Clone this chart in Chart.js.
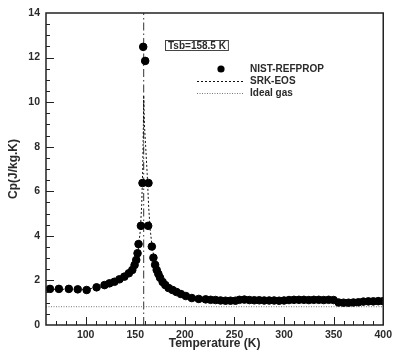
<!DOCTYPE html>
<html>
<head>
<meta charset="utf-8">
<script src="https://cdn.jsdelivr.net/npm/chart.js@4/dist/chart.umd.min.js"></script>
<style>
  html, body { margin: 0; padding: 0; background: #fff; }
  #wrap { width: 396px; height: 352px; }
</style>
</head>
<body>
<div id="wrap"><canvas id="cp" width="396" height="352"></canvas></div>
<script>
// NIST-REFPROP points (T in K, Cp in J/kg.K)
const nistT  = [64, 73, 83, 92, 101, 111, 119, 124, 129, 134, 139, 143.5, 147, 149.3, 151, 152.3, 153.3,
                155.7, 157.3, 158, 160, 163.3, 163, 166.7, 168.3, 170, 171.6, 173.3, 175, 177.6, 180.3,
                183.6, 187.6, 191.6, 196, 201, 207, 214, 221, 226, 231, 236, 241, 246, 251,
                255, 260, 265, 270, 275, 280, 285, 290, 295, 300, 305, 310, 315, 320, 325, 330, 335,
                340, 345, 350, 355, 360, 365, 370, 375, 380, 385, 390, 395, 400];
const nistCp = [1.62, 1.62, 1.62, 1.6, 1.57, 1.69, 1.79, 1.87, 1.94, 2.05, 2.17, 2.32, 2.47, 2.69, 2.92, 3.22, 3.63,
                4.45, 6.37, 12.48, 11.85, 6.37, 4.45, 3.52, 3.02, 2.7, 2.47, 2.29, 2.12, 1.93, 1.79,
                1.66, 1.57, 1.48, 1.39, 1.3, 1.21, 1.17, 1.15, 1.13, 1.12, 1.1, 1.09, 1.09, 1.09,
                1.13, 1.14, 1.12, 1.11, 1.11, 1.1, 1.1, 1.1, 1.09, 1.1, 1.12, 1.13, 1.13, 1.13, 1.12, 1.13, 1.13,
                1.12, 1.13, 1.12, 1.01, 1.0, 1.0, 1.01, 1.02, 1.05, 1.06, 1.06, 1.07, 1.07];

// SRK-EOS curve
const srkT  = [60, 100, 110, 120, 130, 140, 145, 150, 153, 155, 156.5, 157.5, 158.2, 158.5, 159.2, 160.5,
               162, 163.5, 165, 167, 170, 175, 180, 190, 200, 220, 250, 300, 350, 400];
const srkCp = [1.6, 1.6, 1.67, 1.78, 1.93, 2.18, 2.4, 2.85, 3.4, 4.2, 5.4, 7.0, 9.0, 10.3, 9.0, 8.0,
               6.8, 5.3, 4.3, 3.5, 2.8, 2.1, 1.8, 1.5, 1.3, 1.15, 1.1, 1.09, 1.08, 1.06];

// ideal gas Cp
const idealT  = [60, 400];
const idealCp = [0.82, 0.82];

// Tsb marker line
const tsb = 158.5;
const tsbCp = [0, 14];

const xTicks = [100, 150, 200, 250, 300, 350, 400];
const yTicks = [0, 2, 4, 6, 8, 10, 12, 14];

const FONT = "'Liberation Sans', Arial, Helvetica, sans-serif";
const TXT = '#2a2a2a';
const pts = (xs, ys) => xs.map((x, i) => ({ x, y: ys[i] }));

// cadre + ticks internos + legenda
const decor = {
  id: 'decor',
  afterDraw(chart) {
    const { ctx, chartArea: a, scales: { x, y } } = chart;
    ctx.save();
    ctx.strokeStyle = '#222';
    ctx.lineWidth = 1.5;
    ctx.strokeRect(a.left, a.top, a.right - a.left, a.bottom - a.top);

    ctx.lineWidth = 1;
    ctx.beginPath();
    for (let v = 70; v < 400; v += 10) {
      const px = Math.round(x.getPixelForValue(v)) + 0.5;
      const len = v % 50 === 0 ? 8 : 4;
      ctx.moveTo(px, a.bottom); ctx.lineTo(px, a.bottom - len);
    }
    for (let v = 0.5; v < 14; v += 0.5) {
      const py = Math.round(y.getPixelForValue(v)) + 0.5;
      const len = v % 2 === 0 ? 8 : 4;
      ctx.moveTo(a.left, py); ctx.lineTo(a.left + len, py);
    }
    ctx.stroke();

    // Tsb label
    ctx.font = `bold 10px ${FONT}`;
    ctx.fillStyle = TXT;
    ctx.textBaseline = 'middle';
    const txt = 'Tsb=158.5 K';
    const w = ctx.measureText(txt).width;
    ctx.strokeStyle = '#444';
    ctx.strokeRect(165.5, 40.5, w + 5, 10);
    ctx.fillText(txt, 168, 46);

    // legend
    const ds = chart.data.datasets;
    const rows = [69, 81, 93];
    ctx.beginPath();
    ctx.arc(221, rows[0], 3.6, 0, Math.PI * 2);
    ctx.fillStyle = '#000';
    ctx.fill();
    [1, 2].forEach((k, i) => {
      ctx.beginPath();
      ctx.setLineDash(ds[k].borderDash);
      ctx.strokeStyle = ds[k].borderColor;
      ctx.lineWidth = 1;
      ctx.moveTo(197, rows[i + 1] + 0.5); ctx.lineTo(243, rows[i + 1] + 0.5);
      ctx.stroke();
    });
    ctx.setLineDash([]);
    ctx.fillStyle = TXT;
    ds.slice(0, 3).forEach((d, i) => ctx.fillText(d.label, 250, rows[i]));
    ctx.restore();
  }
};

new Chart(document.getElementById('cp'), {
  type: 'scatter',
  data: {
    datasets: [
      { label: 'NIST-REFPROP', data: pts(nistT, nistCp), pointRadius: 3.8, pointBackgroundColor: '#000',
        pointBorderColor: '#000', showLine: false, order: 0 },
      { label: 'SRK-EOS', data: pts(srkT, srkCp), showLine: true, pointRadius: 0, borderColor: '#111',
        borderWidth: 1, borderDash: [2, 2], tension: 0, order: 1 },
      { label: 'Ideal gas', data: pts(idealT, idealCp), showLine: true, pointRadius: 0, borderColor: '#777',
        borderWidth: 1, borderDash: [1, 1.5], order: 2 },
      { label: 'Tsb', data: pts([tsb, tsb], tsbCp), showLine: true, pointRadius: 0, borderColor: '#333',
        borderWidth: 1, borderDash: [8, 3, 1.5, 3], order: 3 }
    ]
  },
  options: {
    responsive: false,
    animation: false,
    events: [],
    layout: { padding: { top: 13, right: 9, left: 0, bottom: 0 } },
    plugins: { legend: { display: false }, tooltip: { enabled: false } },
    scales: {
      x: {
        type: 'linear', min: 60, max: 400,
        afterBuildTicks: s => { s.ticks = xTicks.map(v => ({ value: v })); },
        afterFit: s => { s.height = 27; },
        grid: { display: false, drawTicks: false },
        border: { display: false },
        ticks: { autoSkip: false, maxRotation: 0, padding: 4, color: TXT,
                 font: { family: FONT, size: 10.5, weight: 'bold' } },
        title: { display: true, text: 'Temperature (K)', color: TXT,
                 font: { family: FONT, size: 12, weight: 'bold' }, padding: { top: 0, bottom: 1 } }
      },
      y: {
        type: 'linear', min: 0, max: 14,
        afterBuildTicks: s => { s.ticks = yTicks.map(v => ({ value: v })); },
        afterFit: s => { s.width = 46; },
        grid: { display: false, drawTicks: false },
        border: { display: false },
        ticks: { padding: 6, color: TXT, font: { family: FONT, size: 10.5, weight: 'bold' } },
        title: { display: true, text: 'Cp(J/kg.K)', color: TXT,
                 font: { family: FONT, size: 12, weight: 'bold' }, padding: { top: 6, bottom: 0 } }
      }
    }
  },
  plugins: [decor]
});
</script>
</body>
</html>
